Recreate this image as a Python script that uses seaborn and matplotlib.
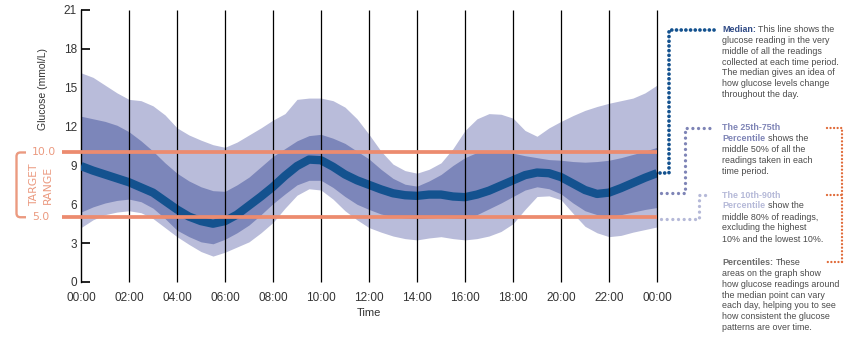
import matplotlib
matplotlib.use("Agg")
import matplotlib.pyplot as plt
import matplotlib.transforms as mtransforms
from matplotlib.lines import Line2D
from matplotlib.path import Path
from matplotlib.patches import PathPatch
import pandas as pd
import seaborn as sns

# ---- data: ambulatory glucose profile (mmol/L), every 30 minutes ----
hours = [0, 0.5, 1, 1.5, 2, 2.5, 3, 3.5, 4, 4.5, 5, 5.5, 6, 6.5, 7, 7.5, 8, 8.5,
         9, 9.5, 10, 10.5, 11, 11.5, 12, 12.5, 13, 13.5, 14, 14.5, 15, 15.5, 16,
         16.5, 17, 17.5, 18, 18.5, 19, 19.5, 20, 20.5, 21, 21.5, 22, 22.5, 23,
         23.5, 24]
median = [8.95, 8.6, 8.3, 8.0, 7.7, 7.3, 6.9, 6.25, 5.6, 5.05, 4.7, 4.5, 4.7,
          5.2, 5.9, 6.6, 7.35, 8.2, 8.95, 9.45, 9.4, 8.9, 8.3, 7.85, 7.5, 7.15,
          6.85, 6.7, 6.65, 6.75, 6.75, 6.6, 6.55, 6.75, 7.05, 7.45, 7.85, 8.25,
          8.45, 8.4, 8.1, 7.6, 7.1, 6.8, 6.9, 7.25, 7.65, 8.05, 8.4]
p75 = [12.8, 12.6, 12.4, 12.1, 11.6, 10.9, 10.1, 9.2, 8.4, 7.8, 7.35, 7.05, 7.0,
       7.5, 8.1, 8.9, 9.7, 10.3, 10.9, 11.3, 11.4, 11.1, 10.7, 10.1, 9.5, 8.7,
       8.0, 7.55, 7.4, 7.8, 8.3, 9.0, 9.6, 10.0, 10.15, 10.1, 9.95, 9.75, 9.6,
       9.45, 9.4, 9.3, 9.25, 9.3, 9.4, 9.6, 9.85, 10.1, 10.4]
p25 = [5.4, 5.8, 6.1, 6.3, 6.4, 6.2, 5.7, 4.9, 4.0, 3.5, 3.1, 2.95, 3.3, 3.8,
       4.4, 5.2, 6.05, 6.8, 7.5, 7.85, 7.85, 7.3, 6.6, 6.0, 5.6, 5.25, 5.05,
       4.95, 4.9, 4.95, 5.0, 4.95, 4.9, 5.2, 5.65, 6.1, 6.6, 7.1, 7.35, 7.2,
       6.8, 6.1, 5.5, 5.2, 5.05, 5.2, 5.4, 5.6, 5.75]
p90 = [16.15, 15.8, 15.2, 14.6, 14.1, 14.0, 13.6, 12.9, 11.9, 11.35, 10.95,
       10.6, 10.4, 10.8, 11.35, 11.9, 12.5, 13.0, 14.1, 14.2, 14.2, 14.0, 13.5,
       12.6, 11.4, 10.1, 9.1, 8.6, 8.4, 8.7, 9.2, 10.3, 11.7, 12.6, 13.0, 12.95,
       12.65, 11.7, 11.25, 11.9, 12.4, 12.85, 13.25, 13.55, 13.8, 14.0, 14.2,
       14.6, 15.2]
p10 = [4.2, 4.8, 5.2, 5.4, 5.5, 5.35, 4.9, 4.2, 3.5, 2.9, 2.35, 2.0, 2.3, 2.7,
       3.1, 3.8, 4.6, 5.7, 6.7, 7.2, 7.1, 6.4, 5.5, 4.8, 4.2, 3.85, 3.55, 3.35,
       3.25, 3.4, 3.5, 3.35, 3.25, 3.35, 3.55, 3.9, 4.5, 5.6, 6.6, 6.65, 6.35,
       5.3, 4.3, 3.8, 3.5, 3.6, 3.85, 4.05, 4.25]

time_ticks = [0, 2, 4, 6, 8, 10, 12, 14, 16, 18, 20, 22, 24]
time_labels = ["00:00", "02:00", "04:00", "06:00", "08:00", "10:00", "12:00",
               "14:00", "16:00", "18:00", "20:00", "22:00", "00:00"]
glucose_ticks = [0, 3, 6, 9, 12, 15, 18, 21]
target_low = 5.0
target_high = 10.0

df = pd.DataFrame({"hour": hours, "median": median, "p25": p25, "p75": p75,
                   "p10": p10, "p90": p90})

# ---- style ----
OUTER = "#b9bcda"
INNER = "#7c86ba"
MEDIAN_C = "#14528f"
ORANGE = "#ec8b6f"
ORANGE_TXT = "#eb9a80"
TEXT = "#4a4a4a"

sns.set_theme(style="white")
plt.rcParams["font.family"] = ["Liberation Sans", "DejaVu Sans"]

W, H = 861, 340
fig = plt.figure(figsize=(W / 100, H / 100), dpi=100)
ax = fig.add_axes([81 / W, 1 - 282 / H, 576 / W, 272 / H])

# percentile bands and median
ax.fill_between(df["hour"], df["p10"], df["p90"], color=OUTER, lw=0, zorder=1)
ax.fill_between(df["hour"], df["p25"], df["p75"], color=INNER, lw=0, zorder=2)
sns.lineplot(data=df, x="hour", y="median", color=MEDIAN_C, lw=6.0, ax=ax,
             zorder=3, solid_capstyle="butt")

ax.set_xlim(0, 24)
ax.set_ylim(0, 21)

# vertical time dividers
ax.vlines(time_ticks[1:], 0, 21, color="black", lw=0.9, zorder=4, clip_on=False)

# target range lines, extending out to the left labels
for v in (target_low, target_high):
    ax.plot([-0.79, 24], [v, v], color=ORANGE, lw=2.7, zorder=5,
            clip_on=False, solid_capstyle="butt")

for s in ("top", "right", "bottom"):
    ax.spines[s].set_visible(False)
ax.spines["left"].set_color("black")
ax.spines["left"].set_linewidth(1.0)

ax.set_yticks(glucose_ticks)
ax.set_xticks(time_ticks)
ax.set_xticklabels(time_labels)
ax.tick_params(axis="y", left=True, direction="in", length=6.5, width=1.4,
               color="#222222", pad=3, labelsize=8.5, labelcolor="#333333")
ax.tick_params(axis="x", bottom=False, length=0, pad=7, labelsize=8.5,
               labelcolor="#333333")
ax.set_xlabel("Time", fontsize=8, color="#333333")
ax.xaxis.set_label_coords(0.5, -0.095)
ax.set_ylabel("Glucose (mmol/L)", fontsize=7.5, color="#333333")
ax.yaxis.set_label_coords(-0.057, 0.711)
ax.grid(False)


def afrac(px):
    return (px - 81) / 576


# target range bracket and labels
trans = mtransforms.blended_transform_factory(ax.transAxes, ax.transData)
xl, xr = afrac(16.5), afrac(26)
rx, ry = 4 / 576, 4 / 12.95
verts = [(xr, target_high), (xl + rx, target_high), (xl, target_high),
         (xl, target_high - ry), (xl, target_low + ry), (xl, target_low),
         (xl + rx, target_low), (xr, target_low)]
codes = [Path.MOVETO, Path.LINETO, Path.CURVE3, Path.CURVE3, Path.LINETO,
         Path.CURVE3, Path.CURVE3, Path.LINETO]
ax.add_patch(PathPatch(Path(verts, codes), fill=False, edgecolor=ORANGE_TXT,
                       lw=1.7, transform=trans, clip_on=False))
ax.text(afrac(31.5), target_high, f"{target_high:.1f}", transform=trans,
        ha="left", va="center", fontsize=7.8, color=ORANGE_TXT,
        family="DejaVu Sans", clip_on=False)
ax.text(afrac(32.5), target_low, f"{target_low:.1f}", transform=trans,
        ha="left", va="center", fontsize=7.8, color=ORANGE_TXT,
        family="DejaVu Sans", clip_on=False)
mid = (target_low + target_high) / 2
ax.text(afrac(34.5), mid, "TARGET", transform=trans, rotation=90, ha="center",
        va="center", fontsize=7.8, color=ORANGE_TXT, family="DejaVu Sans",
        clip_on=False)
ax.text(afrac(48), mid, "RANGE", transform=trans, rotation=90, ha="center",
        va="center", fontsize=7.8, color=ORANGE_TXT, family="DejaVu Sans",
        clip_on=False)


# ---- legend notes on the right ----
def fx(px):
    return px / W


def fy(py):
    return 1 - py / H


def dotted(points, color, lw, gap):
    xs = [fx(p[0]) for p in points]
    ys = [fy(p[1]) for p in points]
    fig.add_artist(Line2D(xs, ys, transform=fig.transFigure, color=color,
                          lw=lw, linestyle=(0, (0.001, gap)),
                          dash_capstyle="round"))


renderer = fig.canvas.get_renderer()
FS = 6.4


def paragraph(x0, y0, dy, lines):
    for i, segs in enumerate(lines):
        x = x0
        for s, color, weight in segs:
            t = fig.text(fx(x), fy(y0 + i * dy), s, ha="left", va="center",
                         fontsize=FS, color=color, weight=weight)
            bb = t.get_window_extent(renderer)
            x += bb.width + 2.4


MED_C = "#2f4a85"
P50_C = "#7e84b6"
P80_C = "#b5b9d8"
PCT_C = "#6b6b6b"

paragraph(722, 30, 10.7, [
    [("Median:", MED_C, "bold"), ("This line shows the", TEXT, "normal")],
    [("glucose reading in the very", TEXT, "normal")],
    [("middle of all the readings", TEXT, "normal")],
    [("collected at each time period.", TEXT, "normal")],
    [("The median gives an idea of", TEXT, "normal")],
    [("how glucose levels change", TEXT, "normal")],
    [("throughout the day.", TEXT, "normal")],
])
paragraph(722, 127.7, 11, [
    [("The 25th-75th", P50_C, "bold")],
    [("Percentile", P50_C, "bold"), ("shows the", TEXT, "normal")],
    [("middle 50% of all the", TEXT, "normal")],
    [("readings taken in each", TEXT, "normal")],
    [("time period.", TEXT, "normal")],
])
paragraph(722, 195, 11, [
    [("The 10th-90th", P80_C, "bold")],
    [("Percentile", P80_C, "bold"), ("show the", TEXT, "normal")],
    [("middle 80% of readings,", TEXT, "normal")],
    [("excluding the highest", TEXT, "normal")],
    [("10% and the lowest 10%.", TEXT, "normal")],
])
paragraph(722, 262.7, 10.8, [
    [("Percentiles:", PCT_C, "bold"), ("These", TEXT, "normal")],
    [("areas on the graph show", TEXT, "normal")],
    [("how glucose readings around", TEXT, "normal")],
    [("the median point can vary", TEXT, "normal")],
    [("each day, helping you to see", TEXT, "normal")],
    [("how consistent the glucose", TEXT, "normal")],
    [("patterns are over time.", TEXT, "normal")],
])

# connectors from the chart edge to each note
end_y = H - ax.transData.transform((24, median[-1]))[1]
dotted([(660, end_y), (669, end_y), (669, 30), (717, 30)], MEDIAN_C, 2.7, 1.25)
dotted([(661, 193), (685, 193), (685, 127.7), (714, 127.7)], P50_C, 2.4, 1.7)
dotted([(661, 219), (699, 219), (699, 195), (706, 195)], P80_C, 2.4, 1.7)
ORANGE_DOT = "#e06a38"
dotted([(827, 127.7), (842, 127.7), (842, 262)], ORANGE_DOT, 1.7, 1.5)
dotted([(842, 262), (827, 262)], ORANGE_DOT, 1.7, 1.5)
dotted([(827, 195), (842, 195)], ORANGE_DOT, 1.7, 1.5)

fig.savefig("out.png", dpi=100)
